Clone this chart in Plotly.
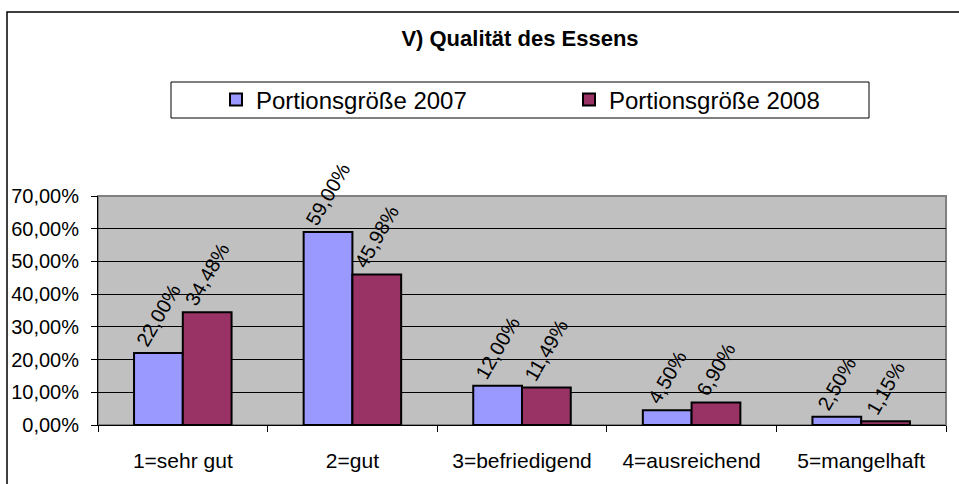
import plotly.graph_objects as go

categories = ["1=sehr gut", "2=gut", "3=befriedigend", "4=ausreichend", "5=mangelhaft"]
series_names = ["Portionsgröße 2007", "Portionsgröße 2008"]
values_2007 = [0.22, 0.59, 0.12, 0.045, 0.025]
values_2008 = [0.3448, 0.4598, 0.1149, 0.069, 0.0115]
colors = ["#9999FF", "#993366"]
y_ticks = [0, 0.1, 0.2, 0.3, 0.4, 0.5, 0.6, 0.7]

W, H = 959, 484
L, R, T, B = 98, 13, 196, 59
pw, ph = W - L - R, H - T - B

def px_x(x):
    return (x - L) / pw

def px_y(y):
    return (H - B - y) / ph

FONT = "Liberation Sans, Arial, sans-serif"

fig = go.Figure()
for name, vals, col in zip(series_names, [values_2007, values_2008], colors):
    fig.add_trace(go.Bar(
        x=categories, y=vals, name=name,
        marker=dict(color=col, line=dict(color="black", width=2)),
        texttemplate="%{y:.2%}", textposition="outside", textangle=-60,
        constraintext="none", cliponaxis=False,
        textfont=dict(family=FONT, size=20, color="black"),
    ))

fig.update_layout(
    width=W, height=H,
    margin=dict(l=L, r=R, t=T, b=B, autoexpand=False),
    paper_bgcolor="white", plot_bgcolor="#C0C0C0",
    separators=",.",
    barmode="group", bargap=0.425, bargroupgap=0,
    font=dict(family=FONT, size=20, color="black"),
    title=dict(text="<b>V) Qualität des Essens</b>", x=520 / W, xanchor="center",
               y=1 - 38 / H, yanchor="middle", yref="container",
               font=dict(family=FONT, size=22, color="black")),
    showlegend=True,
    legend=dict(orientation="h", x=px_x(216), xanchor="left", y=px_y(100), yanchor="middle",
                bgcolor="rgba(0,0,0,0)", borderwidth=0, entrywidth=308,
                font=dict(family=FONT, size=24, color="black"), traceorder="normal"),
    xaxis=dict(type="category", showgrid=False, showline=True, linecolor="black", linewidth=1,
               ticks="outside", tickson="boundaries", ticklen=6, tickcolor="black",
               ticklabelstandoff=17, tickfont=dict(family=FONT, size=21), zeroline=False),
    yaxis=dict(range=[0, 0.7], tickvals=y_ticks, tickformat=".2%", showgrid=True,
               gridcolor="black", gridwidth=1, showline=True, linecolor="black", linewidth=1,
               ticks="outside", ticklen=6, tickcolor="black", ticklabelstandoff=8,
               tickfont=dict(family=FONT, size=20), zeroline=False),
    shapes=[
        dict(type="rect", xref="paper", yref="paper", x0=0, x1=1, y0=0, y1=1,
             line=dict(color="#808080", width=2), layer="below"),
        dict(type="rect", xref="paper", yref="paper", x0=px_x(171), x1=px_x(869),
             y0=px_y(118), y1=px_y(82), line=dict(color="black", width=1)),
        dict(type="rect", xref="paper", yref="paper", x0=px_x(7), x1=px_x(975),
             y0=px_y(500), y1=px_y(12), line=dict(color="black", width=1.5)),
    ],
)

fig.write_html(
    "out.html",
    config={"displayModeBar": False},
    post_script="document.body.style.margin='0';document.body.style.padding='0';"
                "document.body.style.overflow='hidden';",
)
